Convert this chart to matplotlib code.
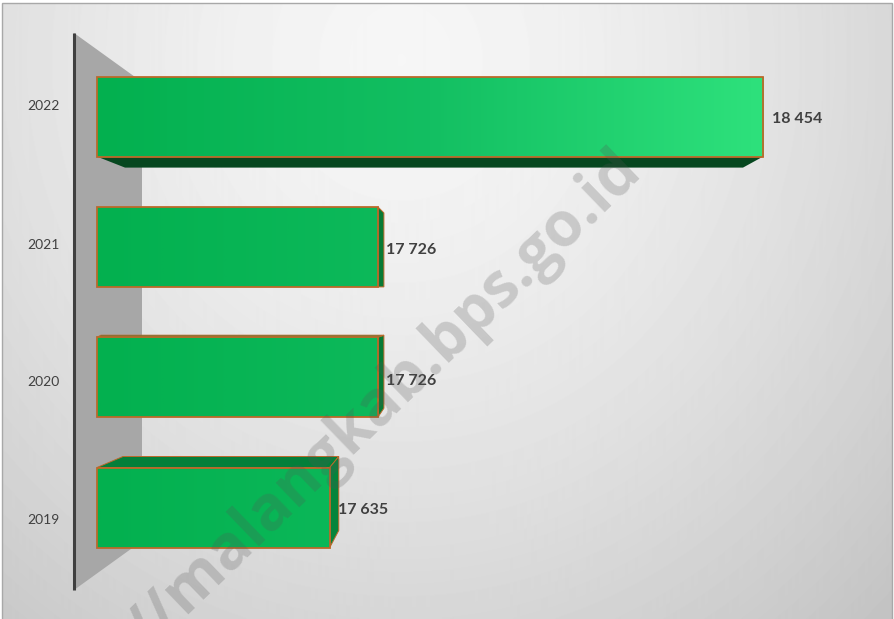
import matplotlib
matplotlib.use("Agg")
import matplotlib.pyplot as plt
import numpy as np
from matplotlib.colors import LinearSegmentedColormap
from matplotlib.patches import Polygon, Rectangle

years = ["2019", "2020", "2021", "2022"]
values = [17635, 17726, 17726, 18454]
value_labels = ["17 635", "17 726", "17 726", "18 454"]

W, H = 894, 619
base = 17195
px_per_unit = 0.529
x0_px = 97
y0_px = 507.5   # centre of first bar
step_px = 130.3
bar_h = 80 / step_px


def xv(px):
    return base + (px - x0_px) / px_per_unit


def yv(py):
    return (y0_px - py) / step_px


def xp(v):
    return x0_px + (v - base) * px_per_unit


def poly(pts, **kw):
    ax.add_patch(Polygon([(xv(a), yv(b)) for a, b in pts], closed=True, **kw))


fig = plt.figure(figsize=(W / 100, H / 100), dpi=100, facecolor="white")
ax = fig.add_axes([0, 0, 1, 1])
ax.set_xlim(xv(0), xv(W))
ax.set_ylim(yv(H), yv(0))
ax.axis("off")

# background, lighter towards the upper middle
gx, gy = np.meshgrid(np.arange(W), np.arange(H))
dist = np.hypot((gx - 400) / 640, (gy - 60) / 700)
shade = np.clip(0.965 - 0.175 * dist ** 1.5, 0.74, 1)
bg = ax.imshow(shade, cmap="gray", vmin=0, vmax=1, aspect="auto",
               extent=[xv(0), xv(W), yv(H), yv(0)], zorder=0)
frame = Rectangle((xv(2), yv(H + 2)), 890 / px_per_unit, (H - 1) / step_px,
                  fill=False, ec="#a8a8a8", lw=1, zorder=1)
ax.add_patch(frame)
bg.set_clip_path(frame)

# the chart wall and the axis line
poly([(74, 33), (142, 82), (142, 541), (74, 590)], fc="#a7a7a7", ec="none", zorder=2)
ax.plot([xv(74), xv(74)], [yv(33), yv(590)], color="#3f3f3f", lw=2.2, zorder=3,
        solid_capstyle="butt")

# depth of the faces: dark faces first so the fronts sit above them
top = [y0_px - step_px * i - 40 for i in range(4)]
bot = [y0_px - step_px * i + 40 for i in range(4)]
r = [xp(v) for v in values]
edge = "#bc692a"

poly([(x0_px, bot[3]), (125, bot[3] + 11), (743, bot[3] + 11), (r[3], bot[3])],
     fc="#06471f", ec="none", zorder=4)
# 2021: side starts lower, 2020: side ends higher
poly([(r[2], top[2]), (r[2] + 6, top[2] + 6), (r[2] + 6, bot[2]), (r[2], bot[2])],
     fc="#077a35", ec=edge, lw=0.7, zorder=4)
poly([(r[1], top[1]), (r[1] + 6, top[1] - 2), (r[1] + 6, bot[1] - 9), (r[1], bot[1])],
     fc="#077a35", ec=edge, lw=0.7, zorder=4)
poly([(x0_px, top[1]), (r[1], top[1]), (r[1] + 6, top[1] - 2), (x0_px + 4, top[1] - 2)],
     fc="#077a35", ec=edge, lw=0.7, zorder=4)
poly([(x0_px, top[0]), (123, top[0] - 11), (r[0] + 9, top[0] - 11), (r[0], top[0])],
     fc="#047f3a", ec=edge, lw=0.7, zorder=4)
poly([(r[0], top[0]), (r[0] + 9, top[0] - 11), (r[0] + 9, bot[0] - 17), (r[0], bot[0])],
     fc="#05843b", ec=edge, lw=0.7, zorder=4)

# bars
bars = ax.barh(range(4), [v - base for v in values], left=base, height=bar_h,
               facecolor="none", edgecolor=edge, linewidth=1.3, zorder=6)
cmap = LinearSegmentedColormap.from_list("bar", ["#03b04f", "#13bf62", "#2ee17c"])
for i, b in enumerate(bars):
    im = ax.imshow(np.linspace(0, (r[i] - x0_px) / 666 * 0.7, 200).reshape(1, -1) if i < 3
                   else np.linspace(0, 1, 200).reshape(1, -1), cmap=cmap,
                   vmin=0, vmax=1, aspect="auto", zorder=5,
                   extent=[base, values[i], i - bar_h / 2, i + bar_h / 2])
    im.set_clip_path(Rectangle((base, i - bar_h / 2), values[i] - base, bar_h,
                               transform=ax.transData))

ax.set_xlim(xv(0), xv(W))
ax.set_ylim(yv(H), yv(0))

# labels
year_y = [520, 382, 245, 106]
value_y = [510, 381, 250, 119]
value_x = [338, 386, 386, 772]
for i in range(4):
    ax.text(xv(43), yv(year_y[i]), years[i], ha="center", va="center", fontsize=10,
            family="Lato", color="#404040", zorder=8)
    ax.text(xv(value_x[i]), yv(value_y[i]), value_labels[i], ha="left", va="center",
            fontsize=11.5, family="Lato", fontweight="bold", color="#404040", zorder=8)

# watermark
ax.text(xv(632), yv(163), "//malangkab.bps.go.id", rotation=44, rotation_mode="anchor",
        ha="right", va="center", fontsize=44.5, family="Open Sans", fontweight="bold",
        color="#555555", alpha=0.24, zorder=9, clip_on=True)

fig.savefig("out.png", dpi=100)
